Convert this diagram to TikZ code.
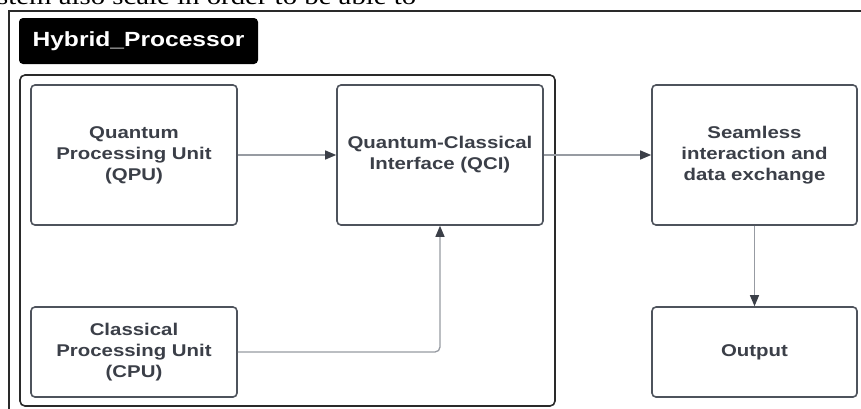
\documentclass[tikz,border=0pt]{standalone}
\usepackage{fontspec}
\setmainfont[FakeStretch=1.2]{Liberation Sans}
\newfontfamily\scanserif[FakeStretch=1.2]{Liberation Serif}
\usetikzlibrary{arrows.meta}
\definecolor{boxc}{HTML}{4E535C}
\definecolor{txtc}{HTML}{3B3F48}
\definecolor{linec}{HTML}{979BA2}
\definecolor{framec}{HTML}{2A2A2A}
\tikzset{
  procbox/.style={draw=boxc, line width=1.6pt, rounded corners=4pt, fill=white,
    align=center, text=txtc, inner sep=0pt,
    font=\bfseries\fontsize{17}{21}\selectfont},
  flow/.style={draw=linec, line width=1.3pt,
    -{Triangle[length=11pt,width=9pt,color=txtc,fill=txtc]}},
  titlebox/.style={fill=black, rounded corners=4pt, text=white, inner sep=0pt,
    font=\bfseries\fontsize{20.5}{22}\selectfont},
  groupbox/.style={draw=framec, line width=1.6pt, rounded corners=5pt, inner sep=0pt}
}
\begin{document}
\begin{tikzpicture}[x=1pt,y=-1pt]
\useasboundingbox (0,0) rectangle (861,408);
\clip (0,0) rectangle (861,408);
% scanned page remnants
\node[anchor=base west, inner sep=0pt, font=\scanserif\fontsize{24}{24}\selectfont]
  (scan) at (-3,4.5) {stem also scale in order to be able to};
\draw[draw=framec, line width=1.3pt] (9,420) -- (9,11) -- (875,11);
% title
\node[titlebox, minimum width=239pt, minimum height=46pt] (title) at (138.5,41) {Hybrid\_Processor};
% container
\node[groupbox, minimum width=535pt, minimum height=331pt] (group) at (287.5,240.5) {};
% boxes
\node[procbox, minimum width=206pt, minimum height=140pt] (qpu) at (134,155)
  {Quantum\\Processing Unit\\(QPU)};
\node[procbox, minimum width=206pt, minimum height=140pt] (qci) at (440,155)
  {Quantum-Classical\\Interface (QCI)};
\node[procbox, minimum width=205pt, minimum height=140pt] (seam) at (754.5,155)
  {Seamless\\interaction and\\data exchange};
\node[procbox, minimum width=206pt, minimum height=90pt] (cpu) at (134,352)
  {Classical\\Processing Unit\\(CPU)};
\node[procbox, minimum width=205pt, minimum height=90pt] (out) at (754.5,352)
  {Output};
% connectors
\draw[flow] (qpu) -- (qci);
\draw[flow] (qci) -- (seam);
\draw[flow] (seam) -- (out);
\draw[flow, rounded corners=5pt] (cpu.east) -| (qci.south);
\end{tikzpicture}
\end{document}
